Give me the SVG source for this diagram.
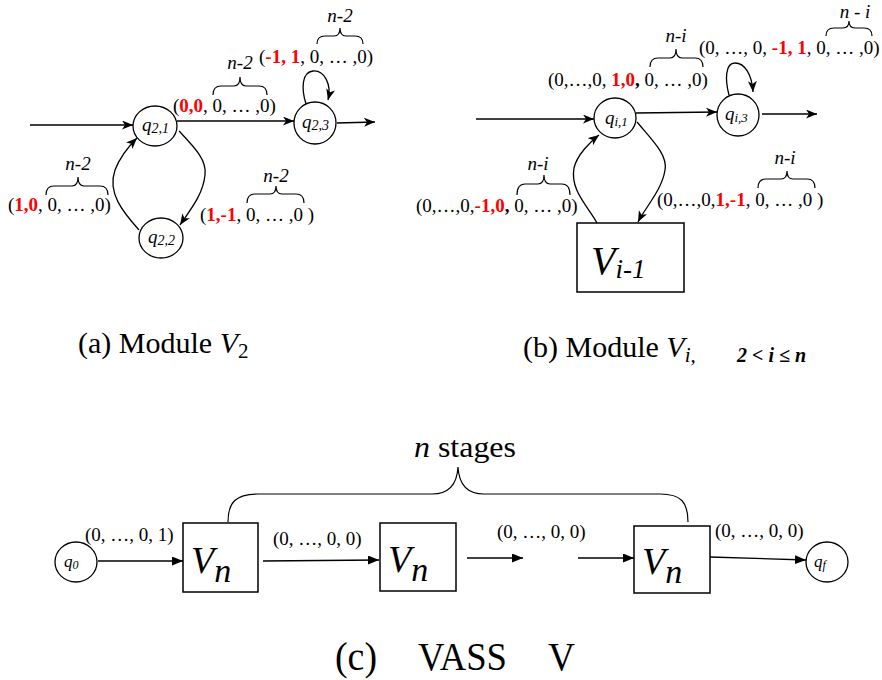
<svg xmlns="http://www.w3.org/2000/svg" width="882" height="680" viewBox="0 0 882 680">
<style>
text{font-family:"Liberation Serif","Times New Roman",serif;fill:#000}
.lbl{font-size:19px}
.r{fill:#f00;font-weight:bold}
.b{font-weight:bold}
.it{font-style:italic}
.edge{fill:none;stroke:#000;stroke-width:1.3}
.brace{fill:none;stroke:#000;stroke-width:1.2}
.st{fill:#fff;stroke:#000;stroke-width:1.3}
.box{fill:#fff;stroke:#000;stroke-width:1.5}
.cap{font-size:30px}
</style>
<defs>
<marker id="ah" markerUnits="userSpaceOnUse" markerWidth="12" markerHeight="10" refX="11" refY="4.5" orient="auto">
<path d="M0,0 L11,4.5 L0,9 L3,4.5 z" fill="#000"/>
</marker>
<marker id="tri" markerUnits="userSpaceOnUse" markerWidth="12" markerHeight="10" refX="11" refY="4.5" orient="auto">
<path d="M0,0 L11,4.5 L0,9 z" fill="#000"/>
</marker>
</defs>

<!-- connectors -->
<g id="connectors">
<!-- panel a -->
<path class="edge" d="M30,125 L133,125" marker-end="url(#ah)"/>
<path class="edge" d="M177,121 L294,121" marker-end="url(#ah)"/>
<path class="edge" d="M337,123 L375,122" marker-end="url(#ah)"/>
<path class="edge" d="M306,104 C301,88 302,72 313,71 C324,70 332,84 328,100" marker-end="url(#ah)"/>
<path class="edge" d="M139,230 C123,212 107,193 115,170 C120,157 128,147 137,138" marker-end="url(#ah)"/>
<path class="edge" d="M179,131 C195,148 207,160 205,175 C203,195 190,210 180,225" marker-end="url(#ah)"/>
<!-- panel b -->
<path class="edge" d="M476,119 L594,119" marker-end="url(#ah)"/>
<path class="edge" d="M636,113 L717,112" marker-end="url(#ah)"/>
<path class="edge" d="M762,114 L817,114" marker-end="url(#ah)"/>
<path class="edge" d="M729,95 C725,80 725,63 735,63 C745,63 752,75 753,92" marker-end="url(#ah)"/>
<path class="edge" d="M597,223 C587,205 570,190 574,168 C577,155 590,142 599,135" marker-end="url(#ah)"/>
<path class="edge" d="M637,122 C652,140 668,155 665,170 C662,190 645,208 638,222" marker-end="url(#ah)"/>
<!-- panel c -->
<path class="edge" d="M98,561 L183,561" marker-end="url(#tri)"/>
<path class="edge" d="M263,561 L379,560" marker-end="url(#tri)"/>
<path class="edge" d="M467,558 L523,558" marker-end="url(#tri)"/>
<path class="edge" d="M578,558 L634,558" marker-end="url(#tri)"/>
<path class="edge" d="M710,557 L806,560" marker-end="url(#tri)"/>
</g>

<!-- panel a nodes -->
<g id="q21"><ellipse class="st" cx="155" cy="126" rx="22" ry="20"/>
<text class="lbl it" x="142" y="131">q<tspan font-size="14" dy="2">2,1</tspan></text></g>
<g id="q23"><ellipse class="st" cx="315" cy="123" rx="21" ry="21"/>
<text class="lbl it" x="302" y="128">q<tspan font-size="14" dy="2">2,3</tspan></text></g>
<g id="q22"><ellipse class="st" cx="161" cy="238" rx="22" ry="20"/>
<text class="lbl it" x="148" y="243">q<tspan font-size="14" dy="2">2,2</tspan></text></g>

<!-- panel a labels -->
<g id="labels-a">
<text class="lbl" x="173" y="112">(<tspan class="r">0,0</tspan>, 0, … ,0)</text>
<path class="brace" d="M213,95 Q213,86 221,86 L234,86 Q240,86 240,77 Q240,86 246,86 L259,86 Q267,86 267,95"/>
<text class="lbl it" x="240" y="69" text-anchor="middle">n-2</text>

<text class="lbl" x="259" y="63">(<tspan class="r">-1, 1</tspan>, 0, … ,0)</text>
<path class="brace" d="M317,44 Q317,36 325,36 L334,36 Q340,36 340,28 Q340,36 346,36 L355,36 Q363,36 363,44"/>
<text class="lbl it" x="340" y="22" text-anchor="middle">n-2</text>

<text class="lbl" x="8" y="211">(<tspan class="r">1,0</tspan>, 0, … ,0)</text>
<path class="brace" d="M46,195 Q46,186 54,186 L72,186 Q78,186 78,177 Q78,186 84,186 L100,186 Q108,186 108,195"/>
<text class="lbl it" x="78" y="170" text-anchor="middle">n-2</text>

<text class="lbl" x="200" y="221">(<tspan class="r">1,-1</tspan>, 0, … ,0 )</text>
<path class="brace" d="M247,203 Q247,194 255,194 L270,194 Q276,194 276,186 Q276,194 282,194 L296,194 Q304,194 304,203"/>
<text class="lbl it" x="276" y="182" text-anchor="middle">n-2</text>
</g>

<!-- panel b nodes -->
<g id="qi1"><ellipse class="st" cx="615" cy="118" rx="21" ry="20"/>
<text class="lbl it" x="605" y="124" font-size="17">q<tspan font-size="13" dy="2">i,1</tspan></text></g>
<g id="qi3"><ellipse class="st" cx="738" cy="115" rx="21" ry="21"/>
<text class="lbl it" x="725" y="120" font-size="17">q<tspan font-size="13" dy="2">i,3</tspan></text></g>
<g id="Vi1"><rect class="box" x="577" y="223" width="107" height="69"/>
<text class="it" x="591" y="274" font-size="40">V<tspan font-size="27" dy="4">i-1</tspan></text></g>

<!-- panel b labels -->
<g id="labels-b">
<text class="lbl" x="548" y="86">(0,…,0, <tspan class="r">1,0</tspan><tspan class="b">,</tspan> 0, … ,0)</text>
<path class="brace" d="M650,67 Q650,58 658,58 L670,58 Q676,58 676,49 Q676,58 682,58 L695,58 Q703,58 703,67"/>
<text class="lbl it" x="676" y="42" text-anchor="middle">n-i</text>

<text class="lbl" x="699" y="54">(0, …, 0, <tspan class="r">-1, 1</tspan>, 0, … ,0)</text>
<path class="brace" d="M826,36 Q826,28 834,28 L843,28 Q849,28 849,21 Q849,28 855,28 L864,28 Q872,28 872,36"/>
<text class="lbl it" x="855" y="18" text-anchor="middle">n - i</text>

<text class="lbl" x="416" y="212">(0,…,0,<tspan class="r">-1,0</tspan><tspan class="b">,</tspan> 0, … ,0)</text>
<path class="brace" d="M517,195 Q517,184 525,184 L538,184 Q544,184 544,175 Q544,184 550,184 L562,184 Q570,184 570,195"/>
<text class="lbl it" x="538" y="170" text-anchor="middle">n-i</text>

<text class="lbl" x="657" y="206">(0,…,0,<tspan class="r">1,-1</tspan>, 0, … ,0 )</text>
<path class="brace" d="M758,188 Q758,179 766,179 L781,179 Q787,179 787,171 Q787,179 793,179 L807,179 Q815,179 815,188"/>
<text class="lbl it" x="785" y="164" text-anchor="middle">n-i</text>
</g>

<!-- captions a, b -->
<text class="cap" x="78" y="353">(a) Module <tspan class="it">V</tspan><tspan font-size="21" dy="5">2</tspan></text>
<text class="cap" x="523" y="357">(b) Module <tspan class="it">V</tspan><tspan class="it" font-size="21" dy="5">i,</tspan></text>
<text class="b it" x="737" y="362" font-size="20">2 &lt; i ≤ n</text>

<!-- panel c -->
<text x="414" y="457" font-size="30" textLength="102" lengthAdjust="spacingAndGlyphs"><tspan class="it">n</tspan> stages</text>
<path class="brace" d="M228,522 C228,502 236,494 258,494 L432,494 C449,494 457,485 458,467 C459,485 467,494 484,494 L660,494 C681,494 688,502 688,522"/>

<g id="q0"><ellipse class="st" cx="76" cy="562" rx="21" ry="20"/>
<text class="it" x="64" y="567" font-size="17">q<tspan font-size="12" dy="2">0</tspan></text></g>
<g id="Vn1"><rect class="box" x="183" y="523" width="75" height="69"/>
<text class="it" x="191" y="573" font-size="38">V<tspan font-size="34" dy="9">n</tspan></text></g>
<g id="Vn2"><rect class="box" x="380" y="523" width="76" height="68"/>
<text class="it" x="388" y="572" font-size="38">V<tspan font-size="34" dy="9">n</tspan></text></g>
<g id="Vn3"><rect class="box" x="634" y="526" width="76" height="67"/>
<text class="it" x="642" y="574" font-size="38">V<tspan font-size="34" dy="9">n</tspan></text></g>
<g id="qf"><ellipse class="st" cx="827" cy="562" rx="21" ry="20"/>
<text class="it" x="814" y="567" font-size="17">q<tspan font-size="12" dy="2">f</tspan></text></g>

<text class="lbl" x="85" y="541">(0, …, 0, 1)</text>
<text class="lbl" x="273" y="545">(0, …, 0, 0)</text>
<text class="lbl" x="497" y="538">(0, …, 0, 0)</text>
<text class="lbl" x="715" y="537">(0, …, 0, 0)</text>

<text x="335" y="670" font-size="40" textLength="42" lengthAdjust="spacingAndGlyphs">(c)</text>
<text x="418" y="670" font-size="40" textLength="89" lengthAdjust="spacingAndGlyphs">VASS</text>
<text x="548" y="670" font-size="40" textLength="27" lengthAdjust="spacingAndGlyphs">V</text>
</svg>
